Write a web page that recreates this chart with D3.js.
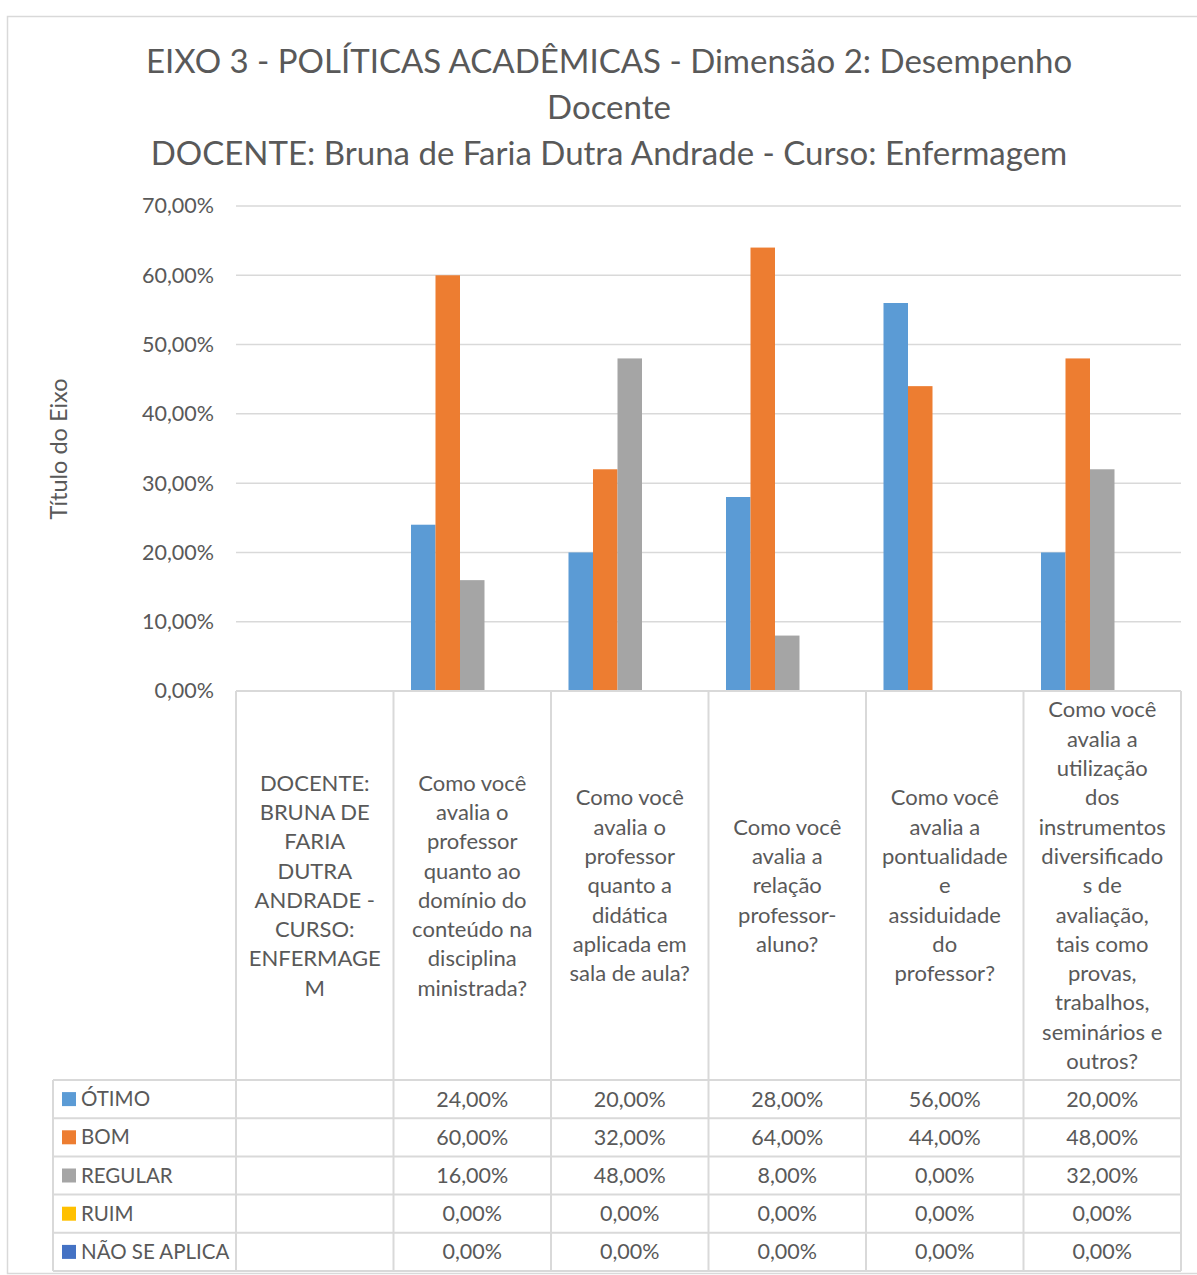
<!DOCTYPE html>
<html>
<head>
<meta charset="utf-8">
<script src="https://cdn.jsdelivr.net/npm/d3@7"></script>
<style>
  html, body { margin: 0; padding: 0; background: #fff; }
  svg { display: block; }
  text { font-family: Lato, "Open Sans", sans-serif; fill: #595959; }
</style>
</head>
<body>
<svg id="chart" width="1197" height="1275"></svg>
<script>
// ---- Data ----
const titleLines = [
  "EIXO 3 - POLÍTICAS ACADÊMICAS - Dimensão 2: Desempenho",
  "Docente",
  "DOCENTE: Bruna de Faria Dutra Andrade - Curso: Enfermagem"
];
const yAxisTitle = "Título do Eixo";
const categories = [
  ["DOCENTE:", "BRUNA DE", "FARIA", "DUTRA", "ANDRADE -", "CURSO:", "ENFERMAGE", "M"],
  ["Como você", "avalia o", "professor", "quanto ao", "domínio do", "conteúdo na", "disciplina", "ministrada?"],
  ["Como você", "avalia o", "professor", "quanto a", "didática", "aplicada em", "sala de aula?"],
  ["Como você", "avalia a", "relação", "professor-", "aluno?"],
  ["Como você", "avalia a", "pontualidade", "e", "assiduidade", "do", "professor?"],
  ["Como você", "avalia a", "utilização", "dos", "instrumentos", "diversificado", "s de", "avaliação,", "tais como", "provas,", "trabalhos,", "seminários e", "outros?"]
];
const seriesNames = ["ÓTIMO", "BOM", "REGULAR", "RUIM", "NÃO SE APLICA"];
const seriesColors = ["#5B9BD5", "#ED7D31", "#A5A5A5", "#FFC000", "#4472C4"];
const otimo       = [null, 0.24, 0.20, 0.28, 0.56, 0.20];
const bom         = [null, 0.60, 0.32, 0.64, 0.44, 0.48];
const regular     = [null, 0.16, 0.48, 0.08, 0.00, 0.32];
const ruim        = [null, 0.00, 0.00, 0.00, 0.00, 0.00];
const naoSeAplica = [null, 0.00, 0.00, 0.00, 0.00, 0.00];
const seriesValues = [otimo, bom, regular, ruim, naoSeAplica];
const yTicks = [0, 0.1, 0.2, 0.3, 0.4, 0.5, 0.6, 0.7];

// ---- Layout ----
const svg = d3.select("#chart");
const plotLeft = 236, plotRight = 1181, plotTop = 206, plotBottom = 691;
const catAreaBottom = 1080, rowH = 38.2, legendLeft = 53;
const gridColor = "#D9D9D9";

const locale = d3.formatLocale({decimal: ",", thousands: ".", grouping: [3], currency: ["R$", ""]});
const pct = locale.format(".2%");

const x = d3.scaleBand().domain(d3.range(categories.length)).range([plotLeft, plotRight]).padding(0);
const xs = d3.scaleBand().domain(d3.range(seriesNames.length)).range([0, x.bandwidth()])
  .paddingInner(0).paddingOuter(0.714);
const y = d3.scaleLinear().domain([0, 0.7]).range([plotBottom, plotTop]);

// outer border
svg.append("rect").attr("x", 7.5).attr("y", 16.5).attr("width", 1300).attr("height", 1257)
  .attr("fill", "none").attr("stroke", gridColor).attr("stroke-width", 1.5);

// title
const title = svg.append("g");
titleLines.forEach((t, i) => {
  title.append("text").attr("x", 609).attr("y", 73 + i * 46)
    .attr("text-anchor", "middle").attr("font-size", 33).text(t);
});

// gridlines
svg.append("g").selectAll("line").data(yTicks.slice(1)).join("line")
  .attr("x1", plotLeft).attr("x2", plotRight)
  .attr("y1", d => y(d)).attr("y2", d => y(d))
  .attr("stroke", gridColor).attr("stroke-width", 1.5);

// y axis labels via d3 axis
const yAxis = svg.append("g").attr("transform", `translate(${plotLeft - 22},0)`)
  .call(d3.axisLeft(y).tickValues(yTicks).tickFormat(pct).tickSize(0).tickPadding(0));
yAxis.select(".domain").remove();
yAxis.selectAll("text").attr("font-size", 21.5).attr("fill", "#595959")
  .style("font-family", "Lato, sans-serif");

// y axis title
svg.append("text").attr("transform", "translate(67,449) rotate(-90)")
  .attr("text-anchor", "middle").attr("font-size", 23.5).text(yAxisTitle);

// bars
const bars = svg.append("g");
seriesValues.forEach((vals, si) => {
  bars.append("g").selectAll("rect").data(vals.map((v, ci) => ({v, ci}))).join("rect")
    .filter(d => d.v !== null && d.v > 0)
    .attr("x", d => x(d.ci) + xs(si))
    .attr("width", xs.bandwidth())
    .attr("y", d => y(d.v))
    .attr("height", d => y(0) - y(d.v))
    .attr("fill", seriesColors[si]);
});

// data table lines
const tbl = svg.append("g").attr("stroke", gridColor).attr("stroke-width", 2).attr("fill", "none");
const tableBottom = catAreaBottom + rowH * seriesNames.length;
tbl.append("line").attr("x1", plotLeft).attr("x2", plotRight).attr("y1", plotBottom).attr("y2", plotBottom);
d3.range(categories.length + 1).forEach(i => {
  const xx = i < categories.length ? x(i) : plotRight;
  tbl.append("line").attr("x1", xx).attr("x2", xx).attr("y1", plotBottom).attr("y2", tableBottom);
});
tbl.append("line").attr("x1", legendLeft).attr("x2", legendLeft).attr("y1", catAreaBottom).attr("y2", tableBottom);
d3.range(seriesNames.length + 1).forEach(r => {
  const yy = catAreaBottom + r * rowH;
  tbl.append("line").attr("x1", legendLeft).attr("x2", plotRight).attr("y1", yy).attr("y2", yy);
});

// category labels
const lineH = 29.3, catCenterY = (plotBottom + catAreaBottom) / 2;
categories.forEach((lines, ci) => {
  const cx = x(ci) + x.bandwidth() / 2;
  const startY = catCenterY - (lines.length - 1) * lineH / 2;
  const t = svg.append("text").attr("text-anchor", "middle").attr("font-size", 22);
  lines.forEach((ln, li) => {
    t.append("tspan").attr("x", cx).attr("y", startY + li * lineH).attr("dy", "0.35em").text(ln);
  });
});

// legend rows + values
seriesNames.forEach((name, si) => {
  const cy = catAreaBottom + si * rowH + rowH / 2;
  svg.append("rect").attr("x", 62).attr("y", cy - 7).attr("width", 14).attr("height", 14)
    .attr("fill", seriesColors[si]);
  svg.append("text").attr("x", 81).attr("y", cy).attr("dy", "0.35em")
    .attr("font-size", 20.5).text(name);
  seriesValues[si].forEach((v, ci) => {
    if (v === null) return;
    svg.append("text").attr("x", x(ci) + x.bandwidth() / 2).attr("y", cy).attr("dy", "0.35em")
      .attr("text-anchor", "middle").attr("font-size", 21.5).text(pct(v));
  });
});
</script>
</body>
</html>
